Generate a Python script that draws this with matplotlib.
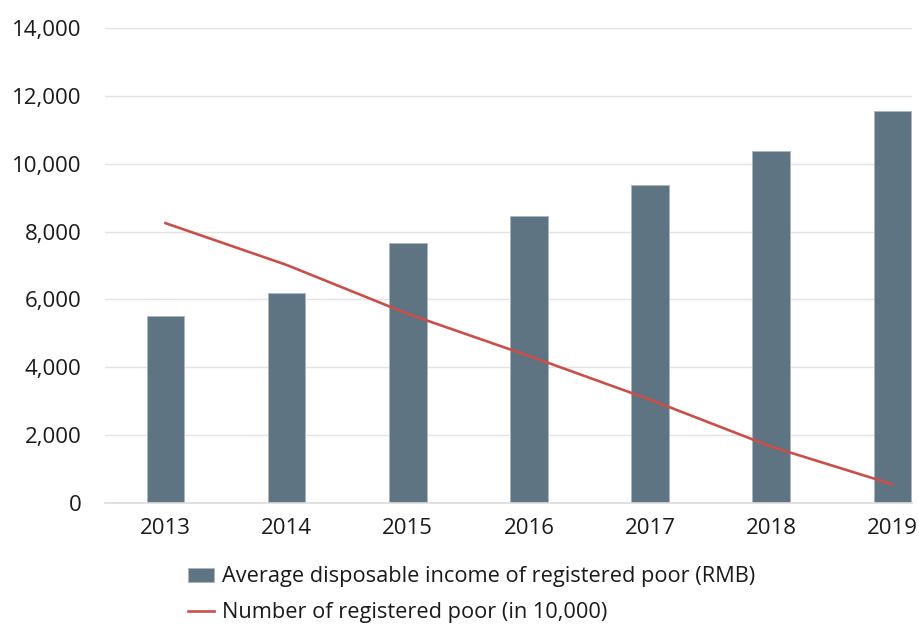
import numpy as np
import matplotlib.pyplot as plt
import matplotlib.ticker as mticker

# data
years = ['2013', '2014', '2015', '2016', '2017', '2018', '2019']
income = [5510, 6200, 7653, 8452, 9377, 10371, 11567]
poor_count = [8249, 7017, 5575, 4335, 3046, 1660, 551]

plt.rcParams['font.family'] = ['Open Sans', 'DejaVu Sans']

fig = plt.figure(figsize=(9.2, 6.24), dpi=100)
ax = fig.add_axes([0.114, 0.194, 0.877, 0.761])

x = np.arange(len(years))
bars = ax.bar(x, income, width=0.31, color='#5e7482', edgecolor='#a9b6bf',
              linewidth=0.6, zorder=2)
line, = ax.plot(x, poor_count, color='#c8504b', linewidth=1.9, zorder=3)

ax.set_ylim(0, 14000)
ax.set_xlim(-0.5, 6.16)
ax.yaxis.set_major_locator(mticker.MultipleLocator(2000))
ax.yaxis.set_major_formatter(mticker.FuncFormatter(lambda v, p: f'{int(v):,}'))
ax.set_xticks(x)
ax.set_xticklabels(years)

for s in ['top', 'right', 'left']:
    ax.spines[s].set_visible(False)
ax.spines['bottom'].set_color('#dcdcdc')
ax.spines['bottom'].set_linewidth(1.2)
ax.grid(axis='y', color='#e3e3e3', linewidth=1.0, zorder=0)
ax.set_axisbelow(True)
ax.tick_params(axis='both', length=0, labelsize=16, colors='#1a1a1a')
ax.tick_params(axis='y', pad=17)
ax.tick_params(axis='x', pad=11)

leg = fig.legend([bars, line],
                 ['Average disposable income of registered poor (RMB)',
                  'Number of registered poor (in 10,000)'],
                 loc='lower left', bbox_to_anchor=(0.183, -0.030), frameon=False,
                 fontsize=15.7, handlelength=1.19, handleheight=0.6,
                 handletextpad=0.36, labelspacing=0.68)
for t in leg.get_texts():
    t.set_color('#1a1a1a')

fig.savefig('out.png', dpi=100)
